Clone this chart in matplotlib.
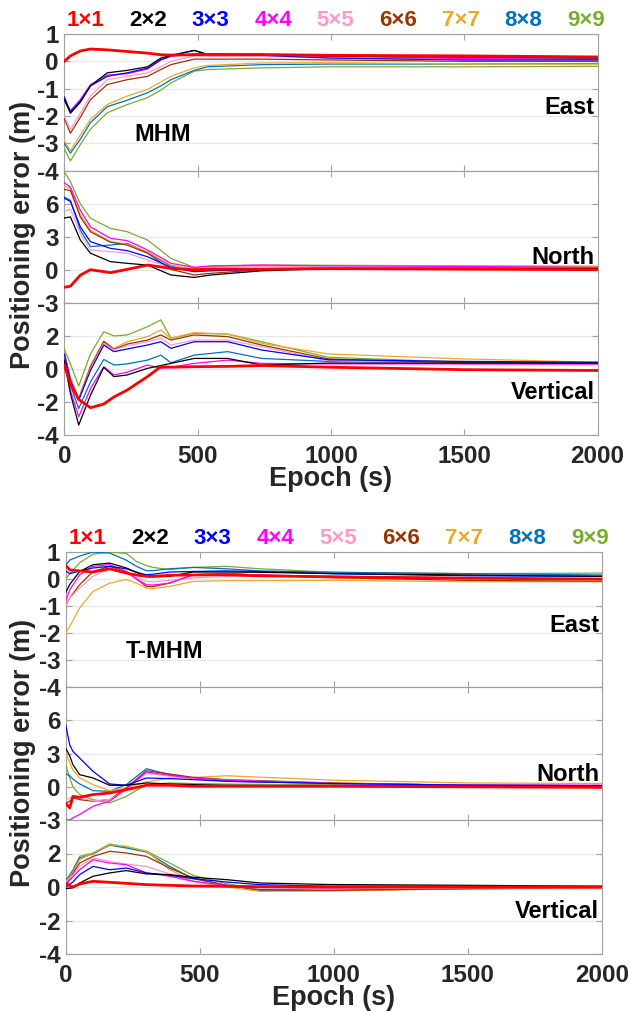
import numpy as np
import matplotlib
matplotlib.use("Agg")
import matplotlib.pyplot as plt

plt.rcParams['font.family'] = ['Liberation Sans', 'DejaVu Sans']
plt.rcParams['font.weight'] = 'bold'
plt.rcParams['axes.unicode_minus'] = False

# legend names and colours
names = ["1×1", "2×2", "3×3", "4×4", "5×5", "6×6", "7×7", "8×8", "9×9"]
colors = ["#FF0000", "#000000", "#0000FF", "#FF00FF", "#FF99CC",
          "#993300", "#EDA82A", "#0072BD", "#77AC30"]

# ---------------- MHM ----------------
mhm_east_t = [0, 23, 60, 98, 161, 236, 312, 362, 400, 487, 538, 740, 1000, 1500, 2000]
mhm_east = [
    [0.0, 0.2, 0.38, 0.45, 0.42, 0.36, 0.3, 0.24, 0.23, 0.24, 0.25, 0.25, 0.22, 0.2, 0.16],
    [-1.4, -1.9, -1.5, -0.9, -0.42, -0.33, -0.2, 0.12, 0.22, 0.4, 0.25, 0.25, 0.2, 0.15, 0.12],
    [-1.3, -1.85, -1.45, -0.9, -0.55, -0.42, -0.25, 0.06, 0.2, 0.4, 0.25, 0.22, 0.12, 0.05, 0.05],
    [-1.4, -1.8, -1.4, -0.85, -0.5, -0.45, -0.28, 0.05, 0.18, 0.28, 0.28, 0.25, 0.18, 0.1, 0.08],
    [-2.0, -2.5, -1.9, -1.27, -0.67, -0.55, -0.42, -0.2, 0.0, 0.2, 0.18, 0.18, 0.12, 0.05, 0.05],
    [-2.1, -2.63, -2.05, -1.4, -0.85, -0.67, -0.55, -0.3, -0.12, 0.08, 0.08, 0.08, 0.05, 0.0, 0.0],
    [-2.9, -3.27, -2.7, -2.12, -1.58, -1.27, -1.03, -0.75, -0.55, -0.24, -0.15, -0.06, -0.05, -0.1, -0.1],
    [-3.0, -3.36, -2.85, -2.24, -1.66, -1.42, -1.15, -0.9, -0.67, -0.33, -0.2, -0.12, -0.1, -0.1, -0.08],
    [-3.2, -3.64, -3.05, -2.48, -1.88, -1.58, -1.33, -1.05, -0.79, -0.36, -0.3, -0.24, -0.2, -0.2, -0.18],
]

mhm_north_t = [0, 23, 60, 98, 173, 236, 312, 400, 487, 550, 740, 1000, 1500, 2000]
mhm_north = [
    [-1.6, -1.5, -0.5, 0.0, -0.27, 0.03, 0.42, 0.12, 0.0, 0.05, 0.05, 0.1, 0.05, 0.0],
    [4.7, 4.8, 2.7, 1.5, 0.73, 0.58, 0.42, -0.48, -0.7, -0.48, -0.1, 0.1, 0.1, 0.05],
    [6.5, 6.2, 3.9, 2.55, 1.94, 1.73, 1.18, 0.21, -0.18, -0.1, 0.03, 0.1, 0.15, 0.1],
    [7.9, 7.5, 5.4, 3.9, 2.85, 2.64, 1.8, 0.58, 0.21, 0.35, 0.42, 0.35, 0.3, 0.2],
    [5.3, 5.5, 3.3, 1.8, 1.64, 1.5, 0.88, 0.21, 0.03, 0.2, 0.3, 0.25, 0.2, 0.15],
    [7.3, 7.2, 4.8, 3.45, 2.5, 2.24, 1.5, 0.03, -0.48, -0.33, 0.0, 0.1, 0.15, 0.1],
    [7.6, 7.4, 5.0, 3.6, 2.55, 2.33, 1.64, 0.42, 0.03, 0.2, 0.35, 0.35, 0.35, 0.3],
    [6.6, 6.3, 3.6, 2.1, 2.24, 2.4, 1.55, 0.33, -0.1, 0.0, 0.1, 0.15, 0.15, 0.1],
    [8.9, 8.0, 6.0, 4.67, 3.76, 3.45, 2.7, 1.03, 0.21, 0.3, 0.42, 0.4, 0.35, 0.3],
]

mhm_vert_t = [0, 23, 54, 98, 148, 186, 236, 312, 362, 400, 487, 613, 740, 990, 1500, 2000]
mhm_vert = [
    [0.2, -0.9, -1.85, -2.35, -2.13, -1.7, -1.28, -0.47, 0.13, 0.1, 0.13, 0.15, 0.2, 0.1, -0.05, -0.1],
    [0.5, -1.5, -3.4, -1.6, 0.09, -0.47, -0.37, 0.03, 0.2, 0.33, 0.63, 0.63, 0.23, 0.35, 0.35, 0.35],
    [0.9, -0.7, -1.89, -0.1, 1.44, 1.04, 1.2, 1.44, 1.64, 1.24, 1.64, 1.64, 1.14, 0.55, 0.45, 0.4],
    [0.6, -1.3, -2.9, -1.2, 0.13, -0.37, -0.2, 0.23, 0.03, 0.1, 0.33, 0.53, 0.33, 0.3, 0.3, 0.3],
    [0.9, -0.6, -1.9, 0.0, 1.54, 1.14, 1.4, 1.64, 1.85, 1.44, 1.74, 1.74, 1.34, 0.5, 0.3, 0.25],
    [0.9, -0.6, -1.85, 0.1, 1.64, 1.18, 1.5, 1.74, 2.05, 1.74, 2.05, 1.95, 1.44, 0.6, 0.35, 0.3],
    [1.0, -0.5, -1.78, 0.2, 1.7, 1.24, 1.64, 1.95, 2.35, 1.85, 2.19, 2.1, 1.54, 0.9, 0.6, 0.4],
    [0.7, -1.0, -2.4, -0.8, 0.57, 0.23, 0.3, 0.53, 0.83, 0.37, 0.83, 1.04, 0.63, 0.45, 0.4, 0.35],
    [1.2, 0.3, -1.04, 0.9, 2.25, 1.99, 2.05, 2.55, 2.96, 1.85, 2.15, 2.1, 1.64, 0.7, 0.4, 0.33],
]

# ---------------- T-MHM ----------------
tmhm_east_t = [0, 15, 52, 102, 164, 226, 264, 301, 326, 388, 475, 600, 724, 1000, 1500, 2000]
tmhm_east = [
    [0.5, 0.34, 0.3, 0.26, 0.38, 0.22, 0.15, 0.1, 0.1, 0.14, 0.15, 0.16, 0.12, 0.08, 0.03, 0.0],
    [-0.5, -0.2, 0.28, 0.53, 0.59, 0.41, 0.25, 0.1, 0.08, 0.1, 0.26, 0.26, 0.25, 0.2, 0.15, 0.1],
    [0.3, 0.2, 0.3, 0.41, 0.47, 0.38, 0.25, 0.16, 0.18, 0.26, 0.28, 0.3, 0.28, 0.2, 0.12, 0.1],
    [-0.8, -0.4, 0.16, 0.47, 0.53, 0.28, 0.0, -0.21, -0.22, -0.15, 0.16, 0.2, 0.15, 0.1, 0.05, 0.0],
    [-1.0, -0.7, -0.33, 0.1, 0.38, 0.22, 0.05, -0.09, -0.1, -0.05, 0.04, 0.1, 0.12, 0.1, 0.05, 0.0],
    [-1.0, -0.7, -0.21, 0.28, 0.47, 0.28, 0.0, -0.27, -0.28, -0.15, 0.16, 0.2, 0.15, 0.05, -0.05, -0.08],
    [-2.0, -1.75, -1.07, -0.46, -0.15, -0.02, -0.15, -0.33, -0.35, -0.27, -0.09, -0.06, -0.06, -0.05, -0.1, -0.1],
    [0.5, 0.7, 0.85, 1.0, 0.96, 0.7, 0.47, 0.31, 0.31, 0.38, 0.43, 0.38, 0.3, 0.25, 0.2, 0.15],
    [0.0, 0.2, 0.6, 0.92, 1.0, 0.95, 0.65, 0.5, 0.43, 0.35, 0.43, 0.47, 0.38, 0.25, 0.2, 0.22],
]

tmhm_north_t = [0, 15, 27, 52, 102, 164, 226, 301, 388, 475, 600, 800, 1000, 1500, 2000]
tmhm_north = [
    [-1.5, -1.9, -0.86, -0.95, -0.7, -0.56, -0.26, 0.14, 0.14, 0.05, 0.05, 0.05, 0.05, 0.0, -0.05],
    [3.5, 2.8, 2.0, 1.1, 0.8, 0.14, 0.14, 0.35, 0.26, 0.2, 0.14, 0.1, 0.1, 0.05, 0.05],
    [5.6, 3.8, 3.2, 2.6, 1.4, 0.26, 0.14, 0.8, 0.74, 0.65, 0.5, 0.4, 0.3, 0.15, 0.1],
    [-3.0, -3.0, -2.8, -2.5, -1.76, -1.3, -0.17, 1.34, 1.04, 0.8, 0.6, 0.45, 0.3, 0.15, 0.15],
    [-1.2, -1.0, -0.9, -1.0, -1.25, -1.16, -0.3, 1.25, 0.95, 0.75, 0.6, 0.45, 0.3, 0.15, 0.1],
    [-1.5, -1.3, -1.0, -1.16, -1.3, -1.16, -0.1, 1.46, 1.16, 0.86, 0.65, 0.5, 0.35, 0.15, 0.1],
    [3.0, 2.2, 1.5, 0.8, 0.2, -0.35, -0.1, 0.44, 0.8, 0.85, 1.0, 0.8, 0.6, 0.35, 0.3],
    [1.2, 1.0, 0.7, 0.26, -0.35, -0.4, 0.2, 1.64, 1.1, 0.8, 0.5, 0.4, 0.3, 0.15, 0.1],
    [2.0, 0.8, 0.0, -0.7, -1.16, -1.46, -0.86, 0.2, 0.35, 0.3, 0.25, 0.2, 0.2, 0.15, 0.1],
]

tmhm_vert_t = [0, 27, 52, 102, 164, 226, 301, 388, 475, 600, 724, 973, 1500, 2000]
tmhm_vert = [
    [0.2, 0.0, 0.18, 0.34, 0.28, 0.22, 0.14, 0.1, 0.06, 0.04, 0.02, 0.0, 0.0, 0.0],
    [-0.1, -0.05, 0.24, 0.64, 0.84, 0.98, 0.78, 0.74, 0.58, 0.44, 0.24, 0.15, 0.1, 0.05],
    [0.0, 0.3, 0.74, 1.23, 1.03, 1.13, 0.84, 0.7, 0.5, 0.3, 0.14, 0.05, 0.05, 0.0],
    [0.2, 0.6, 1.03, 1.63, 1.43, 1.33, 0.84, 0.64, 0.34, 0.1, 0.0, -0.05, 0.0, 0.0],
    [0.3, 0.7, 1.23, 1.73, 1.53, 1.37, 1.23, 0.78, 0.34, 0.05, -0.06, -0.1, -0.05, -0.05],
    [0.0, 0.8, 1.43, 1.83, 2.13, 2.03, 1.83, 1.13, 0.54, 0.1, -0.16, -0.2, -0.1, -0.05],
    [0.2, 0.9, 1.63, 2.03, 2.53, 2.43, 2.13, 1.03, 0.34, 0.0, -0.26, -0.25, -0.1, -0.1],
    [0.3, 1.0, 1.73, 1.97, 2.5, 2.33, 2.09, 1.23, 0.5, 0.1, -0.2, -0.2, -0.1, -0.05],
    [0.4, 1.0, 1.83, 2.03, 2.57, 2.4, 2.15, 1.43, 0.7, 0.2, -0.15, -0.2, -0.1, -0.05],
]

W, H = 629, 1011
fig = plt.figure(figsize=(W / 100, H / 100), dpi=100)

spine_c = "#A0A0A0"
text_c = "#262626"

# component settings: limits, ticks, tick labels, label y
comp_lim = [(-4, 1), (-3, 9), (-4, 4)]
comp_ticks = [[-4, -3, -2, -1, 0, 1], [-3, 0, 3, 6, 9], [-4, -2, 0, 2, 4]]
comp_ticklabels = [["-4", "-3", "-2", "-1", "0", "1"], ["-3", "0", "3", "6", ""],
                   ["-4", "-2", "0", "2", ""]]
comp_names = ["East", "North", "Vertical"]
comp_name_y = [-1.7, 1.1, -1.45]


def draw_panel(left, right, edges, series, method):
    axes = []
    for i in range(3):
        top, bot = edges[i], edges[i + 1]
        ax = fig.add_axes([left / W, 1 - bot / H, (right - left) / W, (bot - top) / H])
        t, data = series[i]
        for k in range(8, 0, -1):
            ax.plot(t, data[k], color=colors[k], lw=0.9, zorder=3)
        # 1x1 drawn thick and on top
        ax.plot(t, data[0], color=colors[0], lw=2.0, zorder=4)
        ax.set_xlim(0, 2000)
        ax.set_ylim(*comp_lim[i])
        ax.set_yticks(comp_ticks[i])
        ax.set_yticklabels(comp_ticklabels[i])
        ax.set_xticks([0, 500, 1000, 1500, 2000])
        ax.grid(axis="y", color="#E8E8E8", lw=1.0)
        ax.set_axisbelow(True)
        for s in ax.spines.values():
            s.set_color(spine_c)
        ax.tick_params(direction="in", top=True, right=True, length=4,
                       color=spine_c, labelcolor=text_c, labelsize=17.5, pad=4)
        ax.tick_params(axis="x", pad=7)
        if i < 2:
            ax.tick_params(labelbottom=False)
        else:
            ax.set_xlabel("Epoch (s)", fontsize=19.5, fontweight="bold", color=text_c, labelpad=-1)
        ax.text(1990, comp_name_y[i], comp_names[i], ha="right", va="center",
                fontsize=17, fontweight="bold", color="black")
        axes.append(ax)
    axes[0].text(370, -2.67, method, ha="center", va="center",
                 fontsize=17, fontweight="bold", color="black")
    for k in range(9):
        axes[0].text(0.04 + k * 0.1172, 1.02, names[k], transform=axes[0].transAxes,
                     ha="center", va="bottom", fontsize=16, fontweight="bold", color=colors[k])
    mid = (edges[0] + edges[3]) / 2
    fig.text(23 / W, 1 - mid / H, "Positioning error (m)", rotation=90, ha="center",
             va="center", fontsize=19.5, fontweight="bold", color=text_c)
    return axes


draw_panel(64.3, 597.6, [34, 170.7, 302.7, 435],
           [(mhm_east_t, mhm_east), (mhm_north_t, mhm_north), (mhm_vert_t, mhm_vert)], "MHM")
draw_panel(65.7, 601.7, [552, 687.3, 820, 954],
           [(tmhm_east_t, tmhm_east), (tmhm_north_t, tmhm_north), (tmhm_vert_t, tmhm_vert)], "T-MHM")

fig.savefig("out.png", dpi=100)
